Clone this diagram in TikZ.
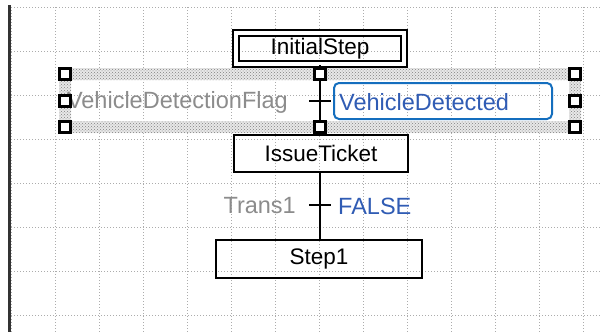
\documentclass[tikz,border=0pt]{standalone}
\usepackage{fontspec}
\setmainfont{Liberation Sans}
\usepackage{tikz}
\usetikzlibrary{patterns,positioning}
\definecolor{SFCgray}{RGB}{140,140,140}
\definecolor{SFCblue}{RGB}{48,92,180}
\definecolor{SFCframe}{RGB}{20,110,190}

\begin{document}
\begin{tikzpicture}[
    x=1pt, y=-1pt,
    gridline/.style={draw=gray!65, line width=1pt, dash pattern=on 1pt off 2pt},
    stepbox/.style={draw, line width=2pt, inner sep=0pt, font=\fontsize{22.5}{26}\selectfont},
    initbox/.style={stepbox, double, double distance=4.5pt, line width=2pt},
    cond/.style={inner sep=0pt, font=\fontsize{23.5}{27}\selectfont},
    handle/.style={draw, fill=white, line width=2.2pt, minimum size=11pt, inner sep=0pt},
    link/.style={line width=2pt}
]
    \useasboundingbox (0,0) rectangle (602,332);
    \fill[white] (0,0) rectangle (602,332);

    % dotted grid
    \foreach \gx in {11,55,...,583}
        \draw[gridline] (\gx,7) -- (\gx,332);
    \foreach \gy in {7,51,...,315}
        \draw[gridline] (11,\gy) -- (602,\gy);
    \draw[line width=2.5pt, gray!40!black] (9.5,5) -- (9.5,332);

    % selection frame of the transition
    \fill[gray!18, even odd rule]
        (59,68) rectangle (581,133) (71,80) rectangle (569,121);
    \fill[pattern=crosshatch dots, pattern color=gray, even odd rule]
        (59,68) rectangle (581,133) (71,80) rectangle (569,121);

    % steps
    \node[initbox, minimum width=168pt, minimum height=31pt] (init) at (320,48.5) {InitialStep};
    \node[stepbox, minimum width=174pt, minimum height=37pt] (issue) at (321,153.5) {IssueTicket};
    \node[stepbox, minimum width=206pt, minimum height=38pt] (step1) at (319,259) {Step1};

    % transitions
    \coordinate (t0) at (320,101);
    \coordinate (t1) at (320,205);
    \draw[link] (init.south -| t0) -- (issue.north -| t0);
    \draw[link] (issue.south -| t1) -- (step1.north -| t1);
    \draw[link] (t0) ++(-11,0) -- ++(22,0);
    \draw[link] (t1) ++(-11,0) -- ++(22,0);

    \node[cond, SFCgray, anchor=east] (flag) at (288,102) {VehicleDetectionFlag};
    \node[draw=SFCframe, line width=2pt, rounded corners=5pt, minimum width=218pt, minimum height=36pt] (condbox) at (443,101) {};
    \node[cond, SFCblue, anchor=west] (detected) at (339,102) {VehicleDetected};
    \node[cond, SFCgray, anchor=east] (trans1) at (296,206) {Trans1};
    \node[cond, SFCblue, anchor=west] (false) at (338,206) {FALSE};

    % handles
    \foreach \hx/\hy [count=\i] in {65/74,65/101,65/127,320/74,320/127,575/74,575/101,575/127}
        \node[handle] (h\i) at (\hx,\hy) {};
\end{tikzpicture}
\end{document}
